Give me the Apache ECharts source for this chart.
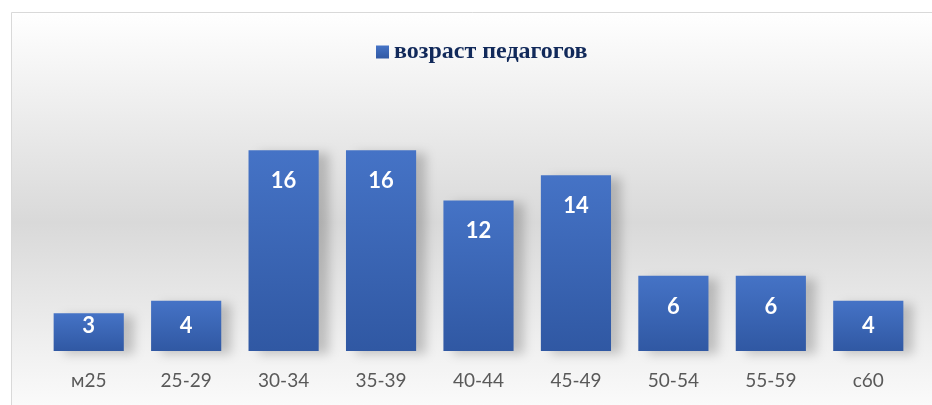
<!DOCTYPE html>
<html lang="ru">
<head>
    <meta charset="UTF-8">
    <title>возраст педагогов</title>
    <style>
        *{ margin: 0; padding: 0; }
        body{ background: #fff; }
    </style>
</head>
<body>
<div id="main" style="width: 932px;height: 405px;"></div>
<script src="https://cdn.jsdelivr.net/npm/echarts@6/dist/echarts.min.js"></script>
<script type="text/javascript">
    // данные диаграммы
    var categories = ['м25', '25-29', '30-34', '35-39', '40-44', '45-49', '50-54', '55-59', 'с60'];
    var teachers = [3, 4, 16, 16, 12, 14, 6, 6, 4];
    var seriesName = 'возраст педагогов';

    var myChart = echarts.init(document.getElementById('main'));

    var barColor = new echarts.graphic.LinearGradient(0, 0, 0, 1, [
        {offset: 0, color: '#4573c6'},
        {offset: 1, color: '#3058a3'}
    ]);

    // у низких столбцов подпись прижимается к верху
    var pxPerUnit = 251 / 20;
    var barData = teachers.map(function (v) {
        return {
            value: v,
            label: {distance: Math.max(1, Math.min(20, v * pxPerUnit - 36))}
        };
    });

    myChart.setOption({
        animation: false,
        graphic: [{
            type: 'rect',
            z: -10,
            silent: true,
            shape: {x: 11.5, y: 12.5, width: 940, height: 420},
            style: {
                fill: new echarts.graphic.LinearGradient(0, 0, 0, 1, [
                    {offset: 0, color: '#ffffff'},
                    {offset: 0.5, color: '#d9d9d9'},
                    {offset: 0.85, color: '#f4f4f4'},
                    {offset: 1, color: '#ffffff'}
                ]),
                stroke: '#d9d9d9',
                lineWidth: 1
            }
        }],
        legend: {
            top: 35,
            left: 371,
            itemWidth: 13,
            itemHeight: 13,
            itemGap: 5,
            icon: 'rect',
            textStyle: {
                fontFamily: '"Liberation Serif", serif',
                fontWeight: 'bold',
                fontSize: 24,
                color: '#11295a'
            },
            data: [seriesName]
        },
        grid: {
            left: 40,
            right: 15,
            top: 100,
            bottom: 54
        },
        xAxis: {
            type: 'category',
            data: categories,
            axisLine: {show: false},
            axisTick: {show: false},
            axisLabel: {
                margin: 20,
                fontFamily: 'Lato, sans-serif',
                fontSize: 19,
                color: '#595959'
            }
        },
        yAxis: {
            type: 'value',
            min: 0,
            max: 20,
            show: false,
            splitLine: {show: false}
        },
        series: [{
            name: seriesName,
            type: 'bar',
            barCategoryGap: '28%',
            data: barData,
            itemStyle: {
                color: barColor,
                shadowColor: 'rgba(0,0,0,0.2)',
                shadowBlur: 10,
                shadowOffsetX: 10,
                shadowOffsetY: 3
            },
            label: {
                show: true,
                position: 'insideTop',
                fontFamily: 'Lato, sans-serif',
                fontWeight: 'bold',
                fontSize: 22,
                color: '#ffffff'
            }
        }]
    });
</script>
</body>
</html>
